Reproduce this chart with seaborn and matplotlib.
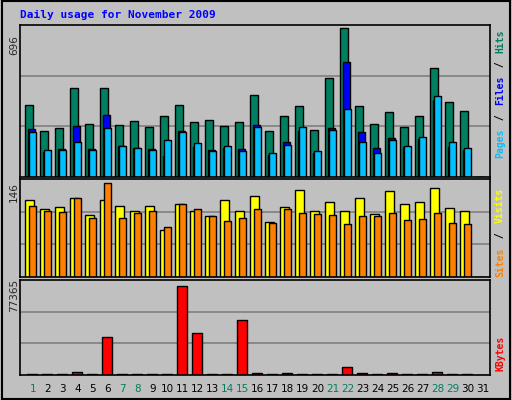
import matplotlib
matplotlib.use("Agg")
import matplotlib.pyplot as plt
import seaborn as sns
import numpy as np
from matplotlib.patches import Rectangle

days = list(range(1, 32))
hits = [328,209,223,406,241,406,237,255,227,278,328,250,259,232,250,374,209,278,324,214,452,681,324,241,296,227,278,497,342,301,0]
files = [218,113,127,232,127,282,140,131,127,95,209,136,122,131,127,237,99,159,209,108,223,525,204,131,177,136,172,351,136,122,0]
pages = [204,122,122,159,122,223,140,131,122,168,204,154,118,140,118,227,108,145,227,118,214,310,159,108,168,140,182,369,159,131,0]
visits = [114,102,105,117,93,114,106,99,106,70,109,99,91,115,99,120,82,105,129,99,112,99,117,94,128,109,111,132,103,99,0]
sites = [106,99,97,117,88,140,88,96,99,75,109,102,91,84,88,102,81,102,96,94,93,79,91,91,96,85,87,96,81,79,0]
kbytes = [500,500,500,2700,500,32000,500,500,500,500,75000,35300,500,500,45900,1900,500,1900,500,500,500,6800,1900,500,1900,500,500,2700,500,500,0]
weekend = [1,7,8,14,15,21,22,28,29]

sns.set_style("white")
plt.rcParams['font.family'] = ['DejaVu Sans Mono']
BG = "#C0C0C0"
fig = plt.figure(figsize=(5.12, 4.0), dpi=100, facecolor=BG)
fig.patches.append(Rectangle((0.003, 0.003), 0.994, 0.994, transform=fig.transFigure,
                             fill=False, edgecolor="black", lw=1.5))
x = np.array(days)
L, W = 20/512, 470/512
xl = (0.15, 31.48)

def mkax(b, h, top):
    ax = fig.add_axes([L, b, W, h])
    ax.set_facecolor(BG)
    ax.set_xlim(*xl)
    ax.set_ylim(0, top)
    for k in (1, 2):
        ax.axhline(top*k/3, color="#808080", lw=1.2, zorder=0)
    ax.set_xticks([]); ax.set_yticks([])
    for s in ax.spines.values():
        s.set_color("black"); s.set_linewidth(1.2)
    return ax

kw = dict(edgecolor="black", linewidth=1, align="edge")
ax1 = mkax(1-177/400, 152/400, 696)
ax1.bar(x-0.5, hits, 0.49, color="#008060", **kw)
ax1.bar(x-0.35, files, 0.49, color="#0000FF", **kw)
ax1.bar(x-0.23, pages, 0.47, color="#00C0FF", **kw)

ax2 = mkax(1-277/400, 98/400, 146)
ax2.bar(x-0.5, visits, 0.57, color="#FFFF00", **kw)
ax2.bar(x-0.25, sites, 0.47, color="#FF8000", **kw)

ax3 = mkax(1-375/400, 95/400, 80000)
sns.barplot(x=x-0.07, y=kbytes, native_scale=True, color="#FF0000", saturation=1,
            edgecolor="black", linewidth=1, width=0.67, ax=ax3)
ax3.set_xlim(*xl); ax3.set_xticks([]); ax3.set_yticks([])
ax3.set_xlabel(""); ax3.set_ylabel("")

for d in days:
    fig.text((20 + (d - 0.15)*15)/512, 1-389/400, str(d), ha="center", va="center",
             fontsize=7.5, family="DejaVu Sans",
             color="#008060" if d in weekend else "black")

fig.text(20/512, 1-15/400, "Daily usage for November 2009", color="#0000FF",
         fontsize=8, fontweight="bold", va="center", ha="left")
for y, t in ((45, "696"), (192, "146"), (295, "77365")):
    fig.text(14/512, 1-y/400, t, rotation=90, ha="center", va="center", fontsize=7.5, family="DejaVu Sans")

def rlabel(parts, ytop):
    y = ytop
    for t, c in parts:
        n = len(t)
        fig.text(500/512, 1-(y + n*3.3)/400, t, rotation=90, ha="center", va="center",
                 color=c, fontsize=7, fontweight="bold")
        y += n*6.6
rlabel([("Hits", "#008060"), (" / ", "black"), ("Files", "#0000FF"), (" / ", "black"), ("Pages", "#00C0FF")], 28)
rlabel([("Visits", "#FFFF00"), (" / ", "black"), ("Sites", "#FF8000")], 186)
rlabel([("KBytes", "#FF0000")], 334)

fig.savefig("out.png", dpi=100, facecolor=BG)
